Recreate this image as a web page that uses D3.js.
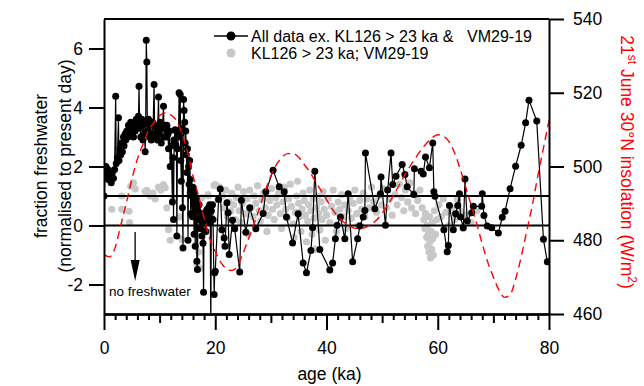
<!DOCTYPE html>
<html>
<head>
<meta charset="utf-8">
<script src="https://cdn.jsdelivr.net/npm/d3@7"></script>
<style>
  html, body { margin: 0; padding: 0; background: #fff; }
  svg { display: block; font-family: "Liberation Sans", Arial, sans-serif; }
</style>
</head>
<body>
<svg id="chart" width="644" height="386"></svg>
<script>
// ---------------- DATA ----------------
// Black series: age (ka), fraction freshwater
const blackAge = [
  0.0,0.2,0.35,0.5,0.7,0.9,1.1,1.3,1.5,1.7,1.9,2.1,2.2,2.4,2.6,2.7,2.9,3.0,3.2,3.3,
  3.5,3.6,3.8,3.9,4.1,4.3,4.4,4.6,4.8,5.0,5.1,5.3,5.5,5.6,5.8,6.0,6.2,6.3,6.4,6.6,
  6.8,7.0,7.1,7.3,7.4,7.5,7.6,7.7,7.8,8.0,8.2,8.3,8.5,8.7,8.8,9.0,9.1,9.3,9.5,9.6,
  9.8,9.9,10.1,10.3,10.5,10.7,10.8,11.0,11.2,11.3,11.5,11.6,11.8,11.9,12.1,12.3,12.4,12.5,12.6,12.8,
  12.9,13.0,13.1,13.2,13.4,13.5,13.6,13.7,13.8,13.9,14.0,14.1,14.2,14.3,14.4,14.5,14.6,14.7,14.8,14.9,
  15.0,15.1,15.2,15.3,15.4,15.5,15.6,15.7,15.8,15.9,16.0,16.1,16.2,16.3,16.4,16.5,16.6,16.7,16.8,16.9,
  17.0,17.1,17.3,17.4,17.6,17.7,17.8,17.9,18.0,18.2,18.3,18.5,18.6,18.8,18.9,19.0,19.1,19.2,19.3,19.5,
  19.6,19.8,19.9,20.0,20.6,20.9,21.2,21.6,21.75,22.1,22.3,22.5,23.1,23.5,24.4,24.7,25.5,26.2,27.3,28.6,
  29.1,30.4,31.5,32.4,32.8,33.9,34.9,35.8,36.4,37.2,37.5,37.9,38.8,40.6,41.1,41.6,41.9,42.5,43.3,43.9,
  44.7,45.6,46.0,46.6,46.9,47.0,48.7,49.7,49.8,50.6,51.0,51.6,51.9,52.5,53.6,54.1,54.5,55.7,55.8,57.0,
  57.4,57.8,58.5,59.1,59.3,59.5,61.1,61.7,61.9,62.1,62.8,63.2,63.6,63.9,64.1,64.6,64.9,65.3,66.1,66.4,
  67.9,68.0,68.3,68.9,69.7,70.9,71.6,72.1,73.0,74.0,75.0,75.8,76.4,77.8,79.0,79.7
];
const blackValue = [
  1.0,1.75,2.0,1.6,1.9,1.55,1.7,1.45,1.8,1.6,1.9,4.38,2.1,2.3,3.65,2.2,2.6,2.4,2.8,2.5,
  3.0,2.7,3.1,2.9,3.2,3.0,3.4,3.2,3.5,3.1,3.4,3.0,3.5,3.2,3.6,3.3,3.7,4.72,3.4,3.0,
  3.6,2.9,3.4,3.1,2.5,3.5,6.28,5.54,3.2,3.6,3.0,3.4,2.9,3.5,3.1,4.78,3.4,3.0,3.3,2.9,
  4.36,3.1,3.5,2.8,3.3,4.04,3.0,3.4,3.0,3.4,3.1,2.6,3.2,2.0,2.7,0.8,2.3,0.2,2.9,3.25,
  2.75,3.2,-0.36,2.6,3.14,4.5,3.0,4.44,2.2,1.5,3.3,0.6,-0.76,4.27,3.9,3.5,2.8,3.2,2.4,1.8,
  2.6,-0.5,2.0,1.4,2.2,1.56,0.4,1.2,1.0,0.3,1.3,0.88,-0.3,1.1,-0.7,0.6,0.9,-1.21,-1.49,0.5,
  0.2,0.7,-0.1,0.4,-0.36,0.1,-0.6,-2.26,0.3,0.43,-0.2,0.54,0.3,0.6,0.2,0.7,0.09,-3.6,0.5,0.7,
  0.2,-2.34,-1.6,-1.55,0.88,1.24,-0.14,-0.42,-0.7,0.77,0.43,-0.98,0.18,-0.11,-1.58,0.86,-0.23,0.6,-0.11,0.41,
  1.14,1.87,1.31,1.14,0.29,-0.59,0.40,-1.27,-1.6,-0.85,-0.08,1.84,-0.81,-1.51,-1.27,-0.45,0.01,0.29,-0.45,1.08,
  -1.23,-0.45,-0.02,0.29,0.51,2.46,0.57,1.08,1.64,0.01,1.20,2.46,1.39,1.67,2.07,1.73,1.31,1.05,1.92,1.84,
  1.75,2.32,1.96,2.80,1.14,0.99,-0.14,-0.89,-0.68,0.68,-0.14,0.40,0.68,1.08,0.29,-0.08,1.58,0.15,0.43,0.65,
  0.65,1.08,0.34,-0.02,-0.08,-0.25,0.28,0.48,1.25,2.01,2.72,3.48,4.25,3.54,-0.47,-1.23
];

// Grey series (KL126 > 23 ka; VM29-19): age (ka), fraction freshwater
const greyAge = [
  1.4,3.2,3.2,4.5,4.6,4.8,5.3,5.6,7.4,7.7,8.3,8.8,9.2,9.8,10.2,10.7,11.0,11.3,11.6,11.9,
  12.4,13.5,14.0,15.4,16.7,17.0,17.3,17.6,18.7,18.8,19.8,20.0,
  20.5,20.8,21.3,21.6,21.9,22.2,22.5,22.8,23.0,23.3,23.6,23.8,24.1,24.3,24.6,24.9,25.1,25.4,
  25.7,25.9,26.2,26.5,26.8,27.0,27.3,27.6,27.9,28.1,28.4,28.7,29.0,29.3,29.5,29.8,
  30.1,30.3,30.6,30.9,31.1,31.4,31.7,31.9,32.2,32.5,32.7,33.0,33.2,33.5,33.7,34.0,34.2,34.4,34.6,34.8,
  35.0,35.2,35.4,35.6,35.8,36.0,36.2,36.4,36.6,36.8,37.0,37.2,37.4,37.6,37.8,38.0,38.2,38.4,38.6,38.8,
  39.0,39.2,39.4,39.6,39.8,
  40.0,40.3,40.6,40.9,41.2,41.5,41.8,42.1,42.4,42.7,43.0,43.3,43.6,43.9,44.2,44.5,44.8,45.1,45.4,45.7,
  46.0,46.3,46.6,46.9,
  47.3,47.7,48.1,48.5,49.0,49.4,49.9,50.3,50.8,51.3,51.8,52.3,52.7,53.1,53.5,53.9,54.2,54.6,55.0,55.3,
  55.7,56.0,56.4,56.8,
  57.2,57.5,57.7,57.8,58.0,58.1,58.2,58.3,58.4,58.5,58.6,58.7,58.8,58.9,59.0,59.1,59.2,59.4,59.6,59.8,
  60.2,60.6,61.0,61.5,62.0,62.5,63.0,63.5,64.0,64.5,65.0,66.0,67.0
];
const greyValue = [
  0.55,1.0,0.55,0.48,0.1,1.33,1.45,1.24,1.16,1.19,1.0,1.1,0.9,1.3,1.2,1.39,1.28,0.6,-0.14,-0.5,
  0.9,0.29,-0.47,1.1,-1.3,-0.9,-1.45,0.94,1.05,1.0,1.36,1.39,
  0.9,1.3,1.0,0.6,1.2,0.3,0.8,0.48,1.1,0.7,0.2,0.95,1.3,0.5,0.1,0.75,1.15,0.4,
  0.9,-0.3,1.2,0.6,0.3,1.0,0.75,1.35,0.5,0.15,0.9,1.1,0.6,-0.2,0.35,0.85,
  1.25,0.55,0.2,0.95,0.7,1.1,0.4,-0.1,0.8,1.3,0.55,0.25,0.9,1.4,0.65,0.05,-0.4,0.45,1.0,1.5,
  0.75,0.3,-0.2,0.55,1.1,0.85,0.35,-0.55,0.15,0.7,1.2,0.5,-0.3,0.9,0.25,-0.8,0.6,1.0,0.4,-0.15,
  0.8,0.2,1.15,0.55,-0.5,
  0.35,0.9,0.1,0.65,1.2,0.45,-0.2,0.8,0.55,1.05,0.3,0.7,-0.1,0.5,0.95,0.25,0.75,1.2,0.4,0.0,
  0.85,0.55,1.1,0.3,
  0.9,0.6,1.3,0.8,0.45,1.0,0.7,1.25,0.6,0.9,0.35,1.05,0.7,1.4,0.95,0.5,1.2,0.8,1.45,0.6,
  1.1,0.4,0.85,1.2,
  0.6,0.2,-0.1,0.4,-0.4,0.0,-0.7,-0.3,-0.9,0.3,-0.55,-1.1,-0.2,-0.8,0.1,-0.45,-1.0,0.5,-0.3,0.2,
  0.7,0.3,0.9,0.45,0.0,0.6,0.2,0.9,0.5,-0.1,0.35,0.1,0.5
];

// Red dashed: 21st June 30°N insolation (W/m²) per ka, 0..80
const insolAge = d3.range(0, 81);
const insolValue = [
  476,475.5,478,484,490,496.5,502,506,509.8,512,513.8,514.5,514,512.5,509,504,497.5,492,486,480.5,
  477,474,472.3,471.8,473,476.5,480.5,484.5,489,493.5,497.5,500.5,502.5,503.5,503.5,502.5,500.5,498.5,496,493.5,
  491,488.5,486.5,485,484,483.3,483.2,483.5,484.3,485.5,487.3,489.5,492,494.8,497.5,500,502.3,504.5,506.3,507.8,
  508.6,508.2,506.8,503.8,499.5,494.5,489.5,484.5,479,474,470,466.5,464.5,465.2,469.5,475.5,482.5,489.5,497.5,505,512.5
];

const xTicks = [0, 20, 40, 60, 80];
const yLeftTicks = [-2, 0, 2, 4, 6];
const yRightTicks = [460, 480, 500, 520, 540];
const refLines = [0, 1];

// ---------------- CHART ----------------
const svg = d3.select("#chart");
const L = 104, R = 549, T = 19, B = 314;
const x = d3.scaleLinear().domain([0, 80]).range([L, R]);
const y = d3.scaleLinear().domain([-3, 7]).range([B, T]);
const yR = d3.scaleLinear().domain([460, 540]).range([B, T]);

svg.append("defs").append("clipPath").attr("id", "clip")
  .append("rect").attr("x", L).attr("y", T).attr("width", R - L).attr("height", B - T);

const plot = svg.append("g").attr("clip-path", "url(#clip)");

// grey points
plot.append("g").selectAll("circle").data(greyAge).join("circle")
  .attr("cx", d => x(d)).attr("cy", (d, i) => y(greyValue[i]))
  .attr("r", 3.6).attr("fill", "#c8c8c8");

// reference lines at 0 and 1
plot.append("g").selectAll("line").data(refLines).join("line")
  .attr("x1", L).attr("x2", R).attr("y1", d => y(d)).attr("y2", d => y(d))
  .attr("stroke", "#000").attr("stroke-width", 1.8);

// black line + points
const blackPts = blackAge.map((a, i) => [a, blackValue[i]]);
plot.append("path").datum(blackPts)
  .attr("d", d3.line().x(d => x(d[0])).y(d => y(d[1])))
  .attr("fill", "none").attr("stroke", "#000").attr("stroke-width", 1.2);
plot.append("g").selectAll("circle").data(blackPts).join("circle")
  .attr("cx", d => x(d[0])).attr("cy", d => y(d[1])).attr("r", 3.5).attr("fill", "#000");

// red insolation dashed
const insolPts = insolAge.map((a, i) => [a, insolValue[i]]);
plot.append("path").datum(insolPts)
  .attr("d", d3.line().curve(d3.curveMonotoneX).x(d => x(d[0])).y(d => yR(d[1])))
  .attr("fill", "none").attr("stroke", "#ff0000").attr("stroke-width", 1.4)
  .attr("stroke-dasharray", "8,5");

// frame top
svg.append("line").attr("x1", L).attr("x2", R).attr("y1", T).attr("y2", T)
  .attr("stroke", "#000").attr("stroke-width", 2);

const fs = "17.5px";
// left axis
const gl = svg.append("g").attr("transform", `translate(${L},0)`)
  .call(d3.axisLeft(y).tickValues(yLeftTicks).tickSize(15).tickSizeOuter(0).tickPadding(6)
    .tickFormat(d => d < 0 ? "-" + Math.abs(d) : d));
// right axis
const gr = svg.append("g").attr("transform", `translate(${R},0)`)
  .call(d3.axisRight(yR).tickValues(yRightTicks).tickSize(15).tickSizeOuter(0).tickPadding(9));
// bottom axis: minor/medium ticks
const gbMinor = svg.append("g").attr("transform", `translate(0,${B})`)
  .call(d3.axisBottom(x).tickValues(d3.range(2, 80, 2).filter(v => v % 10 !== 0)).tickSize(6).tickSizeOuter(0).tickFormat(""));
const gbMed = svg.append("g").attr("transform", `translate(0,${B})`)
  .call(d3.axisBottom(x).tickValues([10, 30, 50, 70]).tickSize(9).tickSizeOuter(0).tickFormat(""));
const gb = svg.append("g").attr("transform", `translate(0,${B})`)
  .call(d3.axisBottom(x).tickValues(xTicks).tickSize(16).tickSizeOuter(0).tickPadding(12));

[gl, gr, gbMinor, gbMed, gb].forEach(g => {
  g.selectAll("path.domain").attr("stroke", "#000").attr("stroke-width", 2);
  g.selectAll(".tick line").attr("stroke", "#000").attr("stroke-width", 2);
  g.selectAll("text").attr("fill", "#000").style("font-size", fs)
    .style("font-family", '"Liberation Sans", Arial, sans-serif');
});

// axis titles
svg.append("text").attr("x", (L + R) / 2 + 3).attr("y", 380).attr("text-anchor", "middle")
  .style("font-size", fs).text("age (ka)");
svg.append("text").attr("transform", "translate(47,166) rotate(-90)")
  .attr("text-anchor", "middle").style("font-size", fs).text("fraction freshwater");
svg.append("text").attr("transform", "translate(71,166) rotate(-90)")
  .attr("text-anchor", "middle").style("font-size", fs).text("(normalised to present day)");

const rt = svg.append("text").attr("transform", "translate(621,162) rotate(90)")
  .attr("text-anchor", "middle").style("font-size", fs).attr("fill", "#ff0000");
rt.append("tspan").text("21");
rt.append("tspan").attr("baseline-shift", "super").style("font-size", "12px").text("st");
rt.append("tspan").text(" June 30°N insolation (W/m");
rt.append("tspan").attr("baseline-shift", "super").style("font-size", "12px").text("2");
rt.append("tspan").text(")");

// legend
const lg = svg.append("g");
lg.append("line").attr("x1", 214).attr("x2", 248).attr("y1", 36).attr("y2", 36)
  .attr("stroke", "#000").attr("stroke-width", 1.4);
lg.append("circle").attr("cx", 231).attr("cy", 36).attr("r", 4.5).attr("fill", "#000");
lg.append("circle").attr("cx", 231).attr("cy", 53).attr("r", 4.5).attr("fill", "#c8c8c8");
const t1 = lg.append("text").attr("x", 251).attr("y", 42).style("font-size", "16px");
t1.append("tspan").text("All data ex. KL126 > 23 ka &");
t1.append("tspan").attr("x", 467).text("VM29-19");
lg.append("text").attr("x", 251).attr("y", 59).style("font-size", "16px")
  .text("KL126 > 23 ka; VM29-19");

// annotation arrow
const ax = x(5.6);
svg.append("line").attr("x1", ax).attr("x2", ax).attr("y1", 232).attr("y2", 262)
  .attr("stroke", "#000").attr("stroke-width", 1.3);
svg.append("path").attr("d", `M${ax - 4.5},260 L${ax + 4.5},260 L${ax},281 Z`).attr("fill", "#000");
svg.append("text").attr("x", 109).attr("y", 296).style("font-size", "13.5px").text("no freshwater");
</script>
</body>
</html>
